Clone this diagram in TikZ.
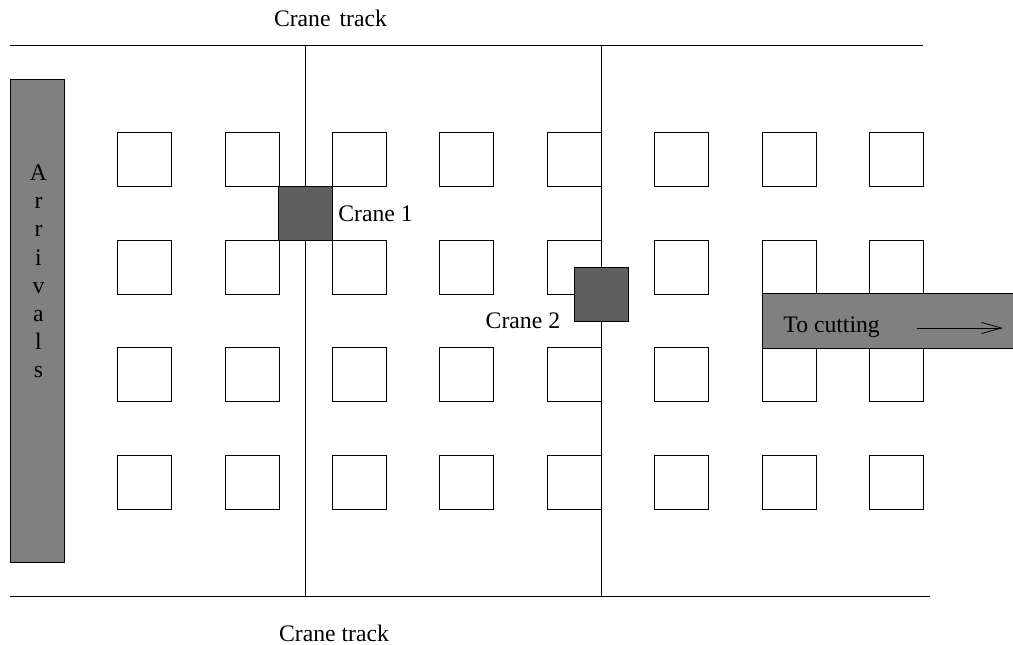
\documentclass[tikz,border=0pt]{standalone}
\usepackage{fontspec}
\setmainfont{Liberation Serif}
\usetikzlibrary{arrows.meta}

\begin{document}
\begin{tikzpicture}[x=1pt, y=-1pt, line width=0.8pt,
    pile/.style={draw, minimum size=54pt, inner sep=0pt},
    crane/.style={draw, fill=black!63, minimum size=54pt, inner sep=0pt},
    lane/.style={draw, fill=black!50, inner sep=0pt},
    txt/.style={font=\fontsize{23.7}{28}\selectfont, inner sep=0pt}]
      \useasboundingbox (0,0) rectangle (1013,645);
      % tracks
      \coordinate (top-w) at (10,45);
      \coordinate (top-e) at (923,45);
      \coordinate (bot-w) at (10,596);
      \coordinate (bot-e) at (930,596);
      \coordinate (top-1) at (305,45);
      \coordinate (bot-1) at (305,596);
      \coordinate (top-2) at (601,45);
      \coordinate (bot-2) at (601,596);
      \draw (top-w) -- (top-e);
      \draw (bot-w) -- (bot-e);
      \draw (top-1) -- (bot-1);
      \draw (top-2) -- (bot-2);
      \node [txt, anchor=base] (track-n) at (330.5,27) {Crane\hspace{9pt}track};
      \node [txt, anchor=base] (track-s) at (334,641.5) {Crane track};
      % storage piles
      \foreach \r in {0,...,3}
        \foreach \c in {0,...,7}
          \node [pile] (p-\r-\c) at (144.5+107.4*\c, 159.5+107.5*\r) {};
      % arrivals
      \node [lane, minimum width=54pt, minimum height=483pt] (arrivals) at (37,320.5) {};
      \foreach \l [count=\i] in {A,r,r,i,v,a,l,s}
        \node [txt, anchor=base] (arr-\i) at (38.5, 180.5+28.2*\i-28.2) {\l};
      % cranes
      \node [crane] (crane1) at (305.5,213) {};
      \node [crane] (crane2) at (601,294) {};
      \node [txt, anchor=base west] (crane1-txt) at (338,221) {Crane 1};
      \node [txt, anchor=base east] (crane2-txt) at (560.5,328) {Crane 2};
      % outgoing
      \node [lane, minimum width=251pt, minimum height=55pt] (cutting) at (887.5,320.5) {};
      \node [txt, anchor=base west] (cutting-txt) at (783,332) {To cutting};
      \coordinate (cut-a) at (917,328);
      \coordinate (cut-b) at (1003,328);
      \draw [-{Straight Barb[length=20pt,width=11pt]}] (cut-a) -- (cut-b);
\end{tikzpicture}
\end{document}
